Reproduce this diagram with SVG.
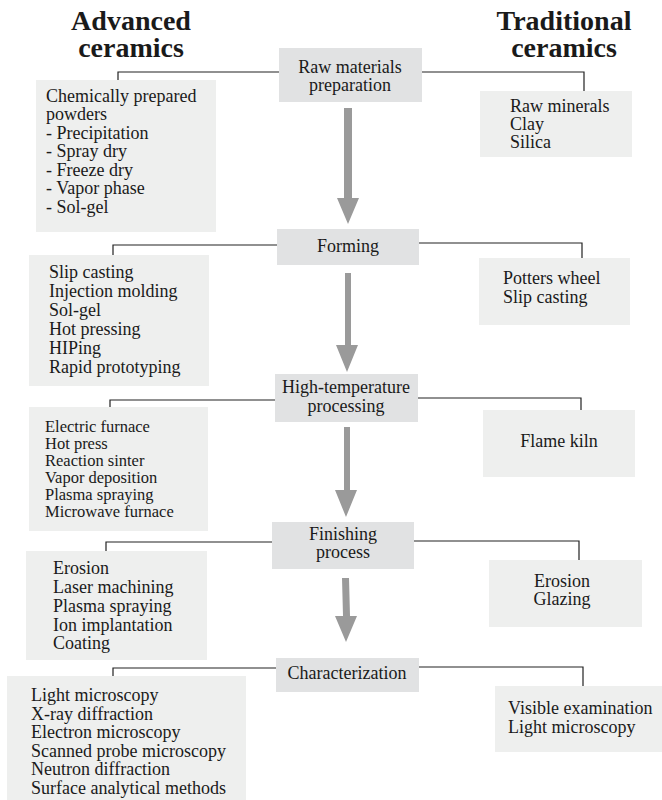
<svg xmlns="http://www.w3.org/2000/svg" width="662" height="800" viewBox="0 0 662 800" font-family="'Liberation Serif', 'Times New Roman', serif">
<style>
text{font-family:'Liberation Serif','Times New Roman',Times,serif;fill:#1a1a1a}
.h{font-size:28px;font-weight:bold;text-anchor:middle}
.t{font-size:18px}
.s{font-size:16.5px}
.c{text-anchor:middle}
.main{fill:#e1e2e3}
.side{fill:#eeefee}
.ln{fill:none;stroke:#222;stroke-width:1.2}
.ar{fill:#9a9a9a}
</style>
<rect width="662" height="800" fill="#fff"/>
<g id="heading-advanced"><text class="h" x="131" y="30">Advanced</text><text class="h" x="131" y="57">ceramics</text></g>
<g id="heading-traditional"><text class="h" x="564" y="30">Traditional</text><text class="h" x="564" y="57">ceramics</text></g>

<g id="connectors">
<path class="ln" d="M118 80V72H279M422 72H584V91"/>
<path class="ln" d="M113 255V245H277M419 243H582V258"/>
<path class="ln" d="M110 407V400H275M418 398H581V410"/>
<path class="ln" d="M106 551V542H272M414 541H579V560"/>
<path class="ln" d="M113 677V668H276M419 667H583V686"/>
<polygon class="ar" points="344,108 352,108 352,198 359,198 348,224 337,198 344,198"/>
<polygon class="ar" points="345,273 351,273 351,345 358,345 347,372 336,345 345,345"/>
<polygon class="ar" points="344,427 350,427 350,490 357,490 346,517 335,490 344,490"/>
<polygon class="ar" points="342,578 349,578 350,616 357,616 346,642 335,616 343,616"/>
</g>

<g id="raw-materials"><rect class="main" x="279" y="48" width="143" height="54"/><text class="t c" x="350" y="73">Raw materials</text><text class="t c" x="350" y="91">preparation</text></g>
<g id="adv-raw"><rect class="side" x="36" y="80" width="180" height="152"/><text class="t" x="46"><tspan x="46" y="102">Chemically prepared</tspan><tspan x="46" y="120">powders</tspan><tspan x="46" y="138.5">- Precipitation</tspan><tspan x="46" y="157">- Spray dry</tspan><tspan x="46" y="175.5">- Freeze dry</tspan><tspan x="46" y="194">- Vapor phase</tspan><tspan x="46" y="212.5">- Sol-gel</tspan></text></g>
<g id="trad-raw"><rect class="side" x="480" y="91" width="152" height="66"/><text class="t"><tspan x="510" y="112">Raw minerals</tspan><tspan x="510" y="130">Clay</tspan><tspan x="510" y="148">Silica</tspan></text></g>

<g id="forming"><rect class="main" x="277" y="229" width="142" height="36"/><text class="t c" x="348" y="252">Forming</text></g>
<g id="adv-forming"><rect class="side" x="29" y="255" width="180" height="131"/><text class="t"><tspan x="49" y="278">Slip casting</tspan><tspan x="49" y="297">Injection molding</tspan><tspan x="49" y="316">Sol-gel</tspan><tspan x="49" y="335">Hot pressing</tspan><tspan x="49" y="354">HIPing</tspan><tspan x="49" y="373">Rapid prototyping</tspan></text></g>
<g id="trad-forming"><rect class="side" x="479" y="258" width="151" height="67"/><text class="t"><tspan x="503" y="284">Potters wheel</tspan><tspan x="503" y="303">Slip casting</tspan></text></g>

<g id="high-temp"><rect class="main" x="275" y="374" width="143" height="48"/><text class="t c" x="346" y="393">High-temperature</text><text class="t c" x="346" y="412">processing</text></g>
<g id="adv-high-temp"><rect class="side" x="29" y="407" width="179" height="124"/><text class="s"><tspan x="45" y="432">Electric furnace</tspan><tspan x="45" y="449">Hot press</tspan><tspan x="45" y="466">Reaction sinter</tspan><tspan x="45" y="483">Vapor deposition</tspan><tspan x="45" y="500">Plasma spraying</tspan><tspan x="45" y="517">Microwave furnace</tspan></text></g>
<g id="trad-high-temp"><rect class="side" x="483" y="410" width="152" height="67"/><text class="t c" x="559" y="447">Flame kiln</text></g>

<g id="finishing"><rect class="main" x="272" y="522" width="142" height="47"/><text class="t c" x="343" y="540">Finishing</text><text class="t c" x="343" y="558">process</text></g>
<g id="adv-finishing"><rect class="side" x="26" y="551" width="181" height="109"/><text class="t"><tspan x="53" y="574">Erosion</tspan><tspan x="53" y="593">Laser machining</tspan><tspan x="53" y="612">Plasma spraying</tspan><tspan x="53" y="631">Ion implantation</tspan><tspan x="53" y="649">Coating</tspan></text></g>
<g id="trad-finishing"><rect class="side" x="489" y="560" width="153" height="67"/><text class="t c" x="562" y="587">Erosion</text><text class="t c" x="562" y="605">Glazing</text></g>

<g id="characterization"><rect class="main" x="276" y="658" width="143" height="34"/><text class="t c" x="347" y="679">Characterization</text></g>
<g id="adv-characterization"><rect class="side" x="7" y="676" width="239" height="124"/><text class="t"><tspan x="31" y="701">Light microscopy</tspan><tspan x="31" y="719.5">X-ray diffraction</tspan><tspan x="31" y="738">Electron microscopy</tspan><tspan x="31" y="756.5">Scanned probe microscopy</tspan><tspan x="31" y="775">Neutron diffraction</tspan><tspan x="31" y="794">Surface analytical methods</tspan></text></g>
<g id="trad-characterization"><rect class="side" x="495" y="686" width="167" height="66"/><text class="t"><tspan x="508" y="714">Visible examination</tspan><tspan x="508" y="733">Light microscopy</tspan></text></g>
</svg>
